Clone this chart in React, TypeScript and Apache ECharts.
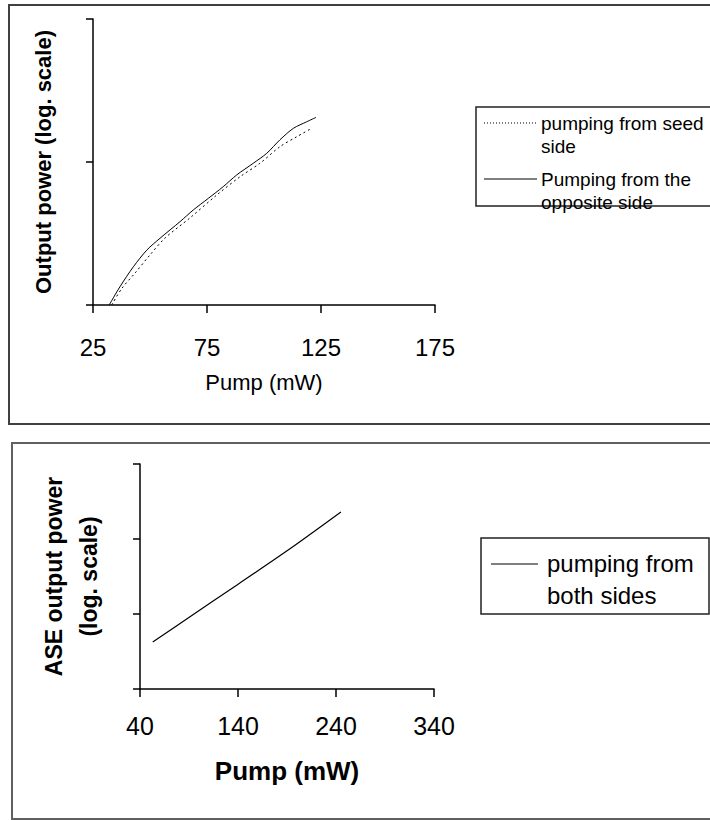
import React, { useEffect, useRef } from "react";
import * as echarts from "echarts";

// Top panel: output power vs pump (log scale, 2 decades)
const pumpSeedSide = [33.2, 37.7, 43.4, 50.0, 56.6, 67.5, 79.3, 89.5, 98.2, 107.0, 114.3, 120.9];
const powerSeedSide = [1.0, 1.31, 1.67, 2.24, 2.94, 4.06, 5.88, 7.89, 9.79, 12.8, 15.0, 17.2];
const pumpOppositeSide = [32.1, 36.8, 42.7, 48.6, 54.4, 63.2, 69.0, 75.6, 82.1, 88.0, 95.3, 101.2, 107.0, 112.9, 118.7, 122.8];
const powerOppositeSide = [1.0, 1.34, 1.85, 2.42, 2.93, 3.83, 4.62, 5.57, 6.72, 8.11, 9.8, 11.5, 14.3, 17.2, 19.1, 20.5];
const topXTicks = [25, 75, 125, 175];

// Bottom panel: ASE output power vs pump (log scale, 3 decades)
const pumpBothSides = [53, 91, 139, 193, 245];
const powerBothSides = [4.24, 9.2, 24.4, 74, 229];
const bottomXTicks = [40, 140, 240, 340];

const seriesNames = {
  seed: "pumping from seed side",
  opposite: "Pumping from the opposite side",
  both: "pumping from both sides",
};

const FONT = "'Liberation Sans', Arial, sans-serif";
const NARROW = "'Liberation Sans Narrow', 'Liberation Sans', Arial, sans-serif";

export default function App() {
  const ref = useRef<HTMLDivElement>(null);

  useEffect(() => {
    if (!ref.current) return;
    const chart = echarts.init(ref.current, undefined, { renderer: "svg" });

    const zip = (xs: number[], ys: number[]) => xs.map((x, i) => [x, ys[i]]);

    const axisLine = { show: true, onZero: false, lineStyle: { color: "#000", width: 1.5 } };

    chart.setOption({
      animation: false,
      backgroundColor: "#fff",
      grid: [
        { left: 93, top: 19, right: 275, bottom: 515, containLabel: false },
        { left: 140, top: 464, right: 276, bottom: 131, containLabel: false },
      ],
      xAxis: [
        {
          gridIndex: 0,
          type: "value",
          min: 25,
          max: 175,
          axisLine,
          axisTick: { show: true, length: 8, customValues: topXTicks, lineStyle: { color: "#000", width: 1.5 } },
          axisLabel: { show: true, customValues: topXTicks, margin: 30, fontSize: 24, color: "#000", fontFamily: FONT },
          splitLine: { show: false },
          name: "Pump (mW)",
          nameLocation: "middle",
          nameGap: 66,
          nameTextStyle: { fontSize: 22, color: "#000", fontFamily: FONT },
        },
        {
          gridIndex: 1,
          type: "value",
          min: 40,
          max: 340,
          axisLine,
          axisTick: { show: true, length: 8, customValues: bottomXTicks, lineStyle: { color: "#000", width: 1.5 } },
          axisLabel: { show: true, customValues: bottomXTicks, margin: 24, fontSize: 25, color: "#000", fontFamily: NARROW },
          splitLine: { show: false },
          name: "Pump (mW)",
          nameLocation: "middle",
          nameGap: 69,
          nameTextStyle: { fontSize: 26, fontWeight: "bold", color: "#000", fontFamily: FONT },
        },
      ],
      yAxis: [
        {
          gridIndex: 0,
          type: "log",
          logBase: 10,
          min: 1,
          max: 100,
          axisLine,
          axisTick: { show: true, length: 7, lineStyle: { color: "#000", width: 1.5 } },
          axisLabel: { show: false },
          splitLine: { show: false },
          minorTick: { show: false },
          name: "Output power (log. scale)",
          nameLocation: "middle",
          nameRotate: 90,
          nameGap: 39,
          nameTextStyle: { fontSize: 22, fontWeight: "bold", color: "#000", fontFamily: FONT },
        },
        {
          gridIndex: 1,
          type: "log",
          logBase: 10,
          min: 1,
          max: 1000,
          axisLine,
          axisTick: { show: true, length: 7, lineStyle: { color: "#000", width: 1.5 } },
          axisLabel: { show: false },
          splitLine: { show: false },
          minorTick: { show: false },
          name: "ASE output power\n(log. scale)",
          nameLocation: "middle",
          nameRotate: 90,
          nameGap: 34,
          nameTextStyle: { fontSize: 23, fontWeight: "bold", color: "#000", fontFamily: FONT, lineHeight: 35 },
        },
      ],
      series: [
        {
          name: seriesNames.seed,
          type: "line",
          xAxisIndex: 0,
          yAxisIndex: 0,
          data: zip(pumpSeedSide, powerSeedSide),
          showSymbol: false,
          symbol: "none",
          smooth: 0.3,
          lineStyle: { color: "#000", width: 1, type: [2, 3] },
        },
        {
          name: seriesNames.opposite,
          type: "line",
          xAxisIndex: 0,
          yAxisIndex: 0,
          data: zip(pumpOppositeSide, powerOppositeSide),
          showSymbol: false,
          symbol: "none",
          smooth: 0.3,
          lineStyle: { color: "#000", width: 1 },
        },
        {
          name: seriesNames.both,
          type: "line",
          xAxisIndex: 1,
          yAxisIndex: 1,
          data: zip(pumpBothSides, powerBothSides),
          showSymbol: false,
          symbol: "none",
          smooth: 0.3,
          lineStyle: { color: "#000", width: 1.2 },
        },
      ],
      graphic: [
        // panel frames
        { type: "rect", silent: true, z: -1, shape: { x: 9, y: 5, width: 720, height: 419 }, style: { fill: "none", stroke: "#404040", lineWidth: 2 } },
        { type: "rect", silent: true, z: -1, shape: { x: 12, y: 443, width: 720, height: 376 }, style: { fill: "none", stroke: "#606060", lineWidth: 2 } },
        // top legend
        { type: "rect", silent: true, shape: { x: 476, y: 107, width: 250, height: 99 }, style: { fill: "#fff", stroke: "#222", lineWidth: 1.5 } },
        { type: "line", silent: true, shape: { x1: 484, y1: 123, x2: 537, y2: 123 }, style: { stroke: "#000", lineWidth: 1, lineDash: [1, 2] } },
        { type: "text", silent: true, x: 541, y: 111.5, style: { text: "pumping from seed\nside", fontSize: 19, lineHeight: 23, fontFamily: FONT, fill: "#000", verticalAlign: "top", align: "left" } },
        { type: "line", silent: true, shape: { x1: 484, y1: 179, x2: 537, y2: 179 }, style: { stroke: "#000", lineWidth: 1 } },
        { type: "text", silent: true, x: 541, y: 167.5, style: { text: "Pumping from the\nopposite side", fontSize: 19, lineHeight: 23, fontFamily: FONT, fill: "#000", verticalAlign: "top", align: "left" } },
        // bottom legend
        { type: "rect", silent: true, shape: { x: 481, y: 538, width: 228, height: 76 }, style: { fill: "#fff", stroke: "#222", lineWidth: 1.5 } },
        { type: "line", silent: true, shape: { x1: 491, y1: 564, x2: 538, y2: 564 }, style: { stroke: "#000", lineWidth: 1.2 } },
        { type: "text", silent: true, x: 547, y: 547, style: { text: "pumping from\nboth sides", fontSize: 24, lineHeight: 32, fontFamily: FONT, fill: "#000", verticalAlign: "top", align: "left" } },
      ],
    });

    return () => chart.dispose();
  }, []);

  return (
    <div
      ref={ref}
      style={{ position: "absolute", left: 0, top: 0, width: 710, height: 820, background: "#fff" }}
    />
  );
}
